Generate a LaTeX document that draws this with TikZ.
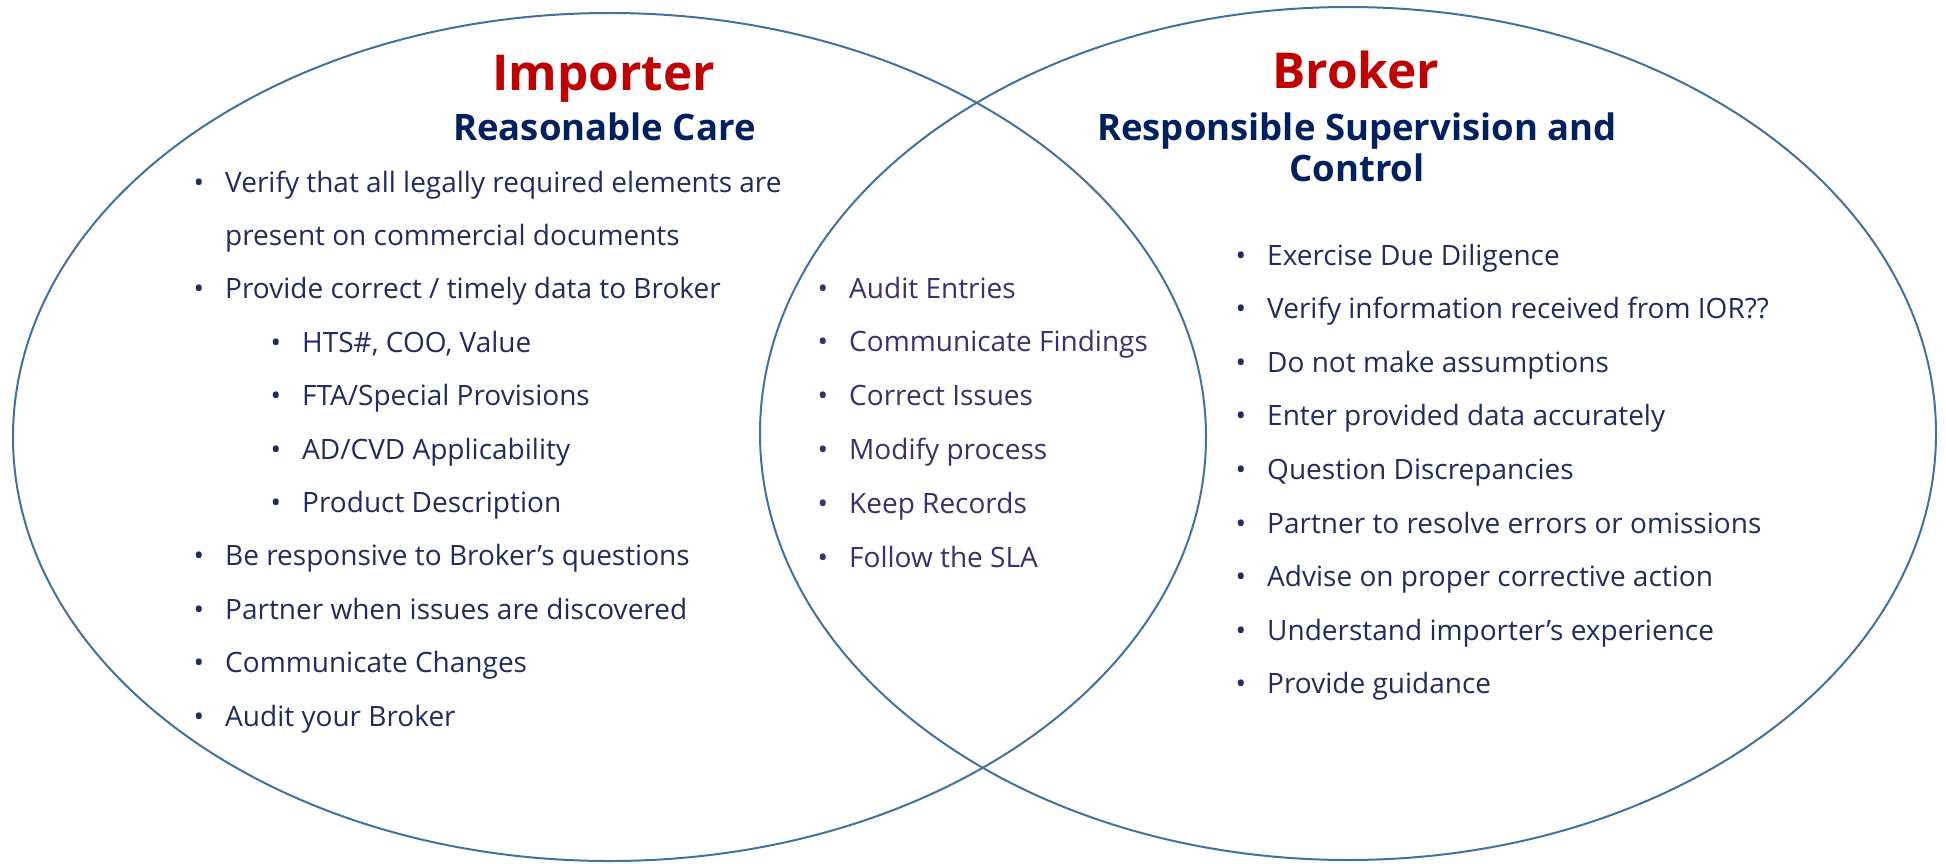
\documentclass[tikz,border=0pt]{standalone}
\usepackage{fontspec}
\setmainfont{Open Sans}
\usetikzlibrary{shapes.geometric}
\definecolor{ringblue}{HTML}{41719C}
\definecolor{headred}{HTML}{C00000}
\definecolor{subnavy}{HTML}{002060}
\definecolor{itemnavy}{HTML}{202C5C}
\definecolor{itempurple}{HTML}{3F2E69}
\newcommand{\bul}{\llap{\textbullet\hspace{21pt}}}
\begin{document}
\begin{tikzpicture}[x=1pt,y=-1pt,
    ring/.style={ellipse,draw=ringblue,line width=2pt},
    head/.style={font=\fontsize{49.5}{60}\selectfont\bfseries,text=headred,inner sep=0pt,anchor=base},
    subhead/.style={font=\fontsize{36.5}{42}\selectfont\bfseries,text=subnavy,inner sep=0pt,anchor=base,align=center},
    item/.style={font=\fontsize{28}{34}\selectfont,text=itemnavy,inner sep=0pt,anchor=base west}]
    \useasboundingbox (0,0) rectangle (1946,864);
    % the two circles
    \node[ring,minimum width=1193pt,minimum height=848pt](imp) at (609.5,437){};
    \node[ring,minimum width=1176pt,minimum height=853pt](brk) at (1348,433.5){};
    % headings
    \node[head](imphead) at (603.5,90.7){Importer};
    \node[subhead](impsub) at (604.5,140){Reasonable Care};
    \node[head](brkhead) at (1356,89){Broker};
    \node[subhead](brksub) at (1357,182){Responsible Supervision and\\Control};
    % importer list
    \foreach \x/\b/\txt [count=\i from 0] in {225/1/Verify that all legally required elements are,
        225/0/present on commercial documents, 225/1/{Provide correct / timely data to Broker},
        302/1/{HTS\#, COO, Value}, 302/1/{FTA/Special Provisions}, 302/1/{AD/CVD Applicability},
        302/1/Product Description, 225/1/Be responsive to Broker’s questions,
        225/1/Partner when issues are discovered, 225/1/Communicate Changes, 225/1/Audit your Broker}
        \node[item](impitem\i) at (\x,192+53.4*\i){\ifnum\b=1 \bul\fi\txt};
    % shared list
    \foreach \txt [count=\i from 0] in {Audit Entries, Communicate Findings, Correct Issues,
        Modify process, Keep Records, Follow the SLA}
        \node[item,text=itempurple](miditem\i) at (849,298+53.8*\i){\bul\txt};
    % broker list
    \foreach \txt [count=\i from 0] in {Exercise Due Diligence, Verify information received from IOR??,
        Do not make assumptions, Enter provided data accurately, Question Discrepancies,
        Partner to resolve errors or omissions, Advise on proper corrective action,
        Understand importer’s experience, Provide guidance}
        \node[item](brkitem\i) at (1267,265+53.6*\i){\bul\txt};
\end{tikzpicture}
\end{document}
